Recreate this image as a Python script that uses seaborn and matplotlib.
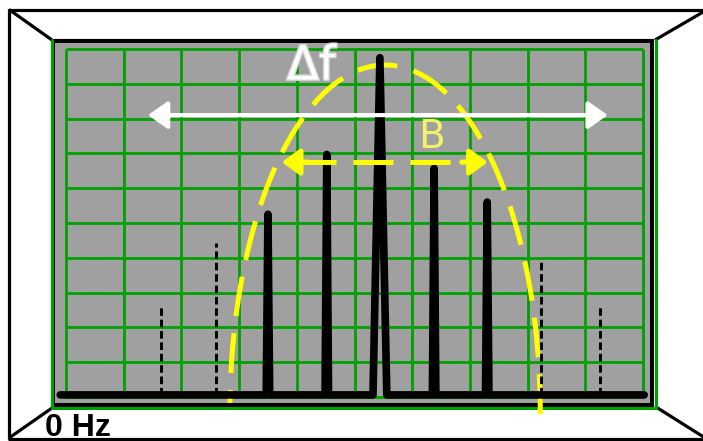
import numpy as np
import pandas as pd
import seaborn as sns
import matplotlib.pyplot as plt
from matplotlib.patches import Arc, Rectangle
import matplotlib.patheffects as pe

# ---- data (in screen grid divisions) ----
grid_ticks = list(range(11))

# main carrier + sidebands inside the bandwidth (solid)
peak_pos = [3.50, 4.52, 5.44, 6.38, 7.30]
peak_height = [5.25, 6.97, 9.75, 6.57, 5.60]
peak_halfwidth = [0.03, 0.03, 0.12, 0.03, 0.03]

# sidebands outside the bandwidth (dashed)
side_pos = [1.65, 2.60, 8.23, 9.25]
side_height = [2.64, 4.43, 3.94, 2.64]

baseline = 0.06
span_start, span_end = -0.1, 10.02

# envelope (yellow dashed)
env_center = (5.53, -0.45)
env_halfwidth = 2.69
env_height = 9.99

# arrows
b_y, b_left, b_right = 6.75, 3.74, 7.31
df_y, df_left, df_right = 8.1, 1.42, 9.39

labels = {"df": "Δf", "b": "B", "zero": "0 Hz"}

GRAY = "#a0a0a0"
GREEN = "#00a000"
YELLOW = "#ffff00"

sns.set_style("white")
plt.rcParams['font.family'] = ['DejaVu Sans']
plt.rcParams['text.color'] = 'black'

fig = plt.figure(figsize=(7.03, 4.41), dpi=100)

# background layer in pixel coordinates for the instrument frame
bg = fig.add_axes([0, 0, 1, 1])
bg.set_xlim(0, 703)
bg.set_ylim(441, 0)
bg.axis("off")

frame_kw = dict(color="black", lw=2.3, solid_capstyle="butt")
bg.plot([9, 9], [9, 438.5], **frame_kw)
bg.plot([8, 710], [9.5, 9.5], **frame_kw)
bg.plot([8, 710], [438.5, 438.5], **frame_kw)
bg.plot([9, 52], [9.5, 40], **frame_kw)
bg.plot([52, 9], [408, 438], **frame_kw)
bg.plot([655, 710], [40, 8], **frame_kw)
bg.plot([656, 710], [407, 441], **frame_kw)
bg.add_patch(Rectangle((53, 41), 599, 364, facecolor=GRAY,
                       edgecolor="black", lw=3))
bg.plot([51.5, 51.5, 655.5, 655.5], [40, 408, 408, 40], color=GREEN, lw=2.2)
bg.text(45, 435.5, labels["zero"], fontsize=23, fontweight="bold", color="black",
        family=["Liberation Sans", "DejaVu Sans"], va="baseline", ha="left")

# screen axes: grid 0..10 maps to px 66..643 (x) and 397..49 (y)
x0, y0, x1, y1 = 55, 43, 650, 403
ax = fig.add_axes([x0 / 703, (441 - y1) / 441, (x1 - x0) / 703, (y1 - y0) / 441])
ax.set_facecolor(GRAY)
ax.set_xlim((x0 - 66) / 57.7, (x1 - 66) / 57.7)
ax.set_ylim((397 - y1) / 34.8, (397 - y0) / 34.8)
for s in ax.spines.values():
    s.set_visible(False)
ax.set_xticks([])
ax.set_yticks([])

ax.vlines(grid_ticks, 0, 10, colors=GREEN, lw=2.0, zorder=1)
ax.hlines(grid_ticks, 0, 10, colors=GREEN, lw=2.0, zorder=1)

# envelope
ax.add_patch(Arc(env_center, 2 * env_halfwidth, 2 * env_height, theta1=-1,
                 theta2=174, color=YELLOW, lw=3.6, linestyle=(0, (8, 3.4)),
                 clip_on=False, zorder=3))

# spectrum trace
xs, ys = [span_start], [baseline]
for p, h, w in zip(peak_pos, peak_height, peak_halfwidth):
    xs += [p - w, p, p + w]
    ys += [baseline, h, baseline]
xs.append(span_end)
ys.append(baseline)
spec = pd.DataFrame({"f": xs, "amp": ys})
sns.lineplot(data=spec, x="f", y="amp", sort=False, estimator=None,
             color="black", lw=5.5, ax=ax, zorder=4,
             solid_joinstyle="round", solid_capstyle="round")

ax.vlines(side_pos, baseline, side_height, colors="black", lw=2.1,
          linestyles=[(0, (2.6, 1.3))], zorder=4)

# bandwidth arrow B
ax.plot([b_left + 0.25, b_right - 0.25], [b_y, b_y], color=YELLOW, lw=3.6,
        linestyle=(0, (8, 3.4)), solid_capstyle="butt", zorder=5)
head = dict(arrowstyle="-|>,head_length=0.45,head_width=0.33", color=YELLOW,
            lw=3.6, mutation_scale=24, shrinkA=0, shrinkB=0)
ax.annotate("", xy=(b_left, b_y), xytext=(b_left + 0.45, b_y), arrowprops=head, zorder=5)
ax.annotate("", xy=(b_right, b_y), xytext=(b_right - 0.45, b_y), arrowprops=head, zorder=5)

# deviation arrow
ax.annotate("", xy=(df_left, df_y), xytext=(df_right, df_y),
            arrowprops=dict(arrowstyle="<|-|>,head_length=0.5,head_width=0.35",
                            color="white", lw=3, mutation_scale=24,
                            shrinkA=0, shrinkB=0), zorder=5)

ax.text(4.25, 9.48, labels["df"], color="white", fontsize=34, ha="center",
        va="center", zorder=6,
        path_effects=[pe.withStroke(linewidth=2, foreground="#d0d0d0")])
ax.text(6.34, 7.47, labels["b"], color="#f4f06a", fontsize=28, ha="center",
        va="center", zorder=6)

fig.savefig("out.png", dpi=100)
